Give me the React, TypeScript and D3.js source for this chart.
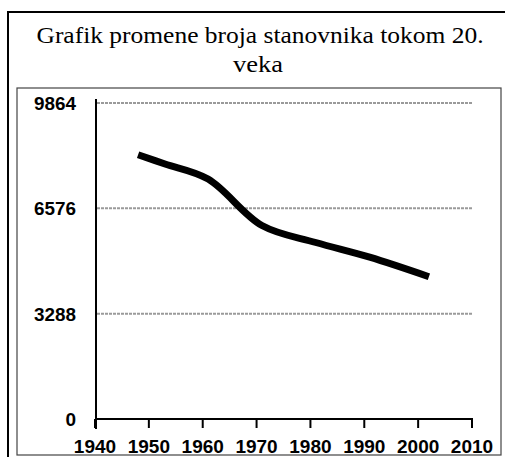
import React from "react";
import * as d3 from "d3";

const years = [1948, 1953, 1961, 1971, 1981, 1991, 2002];
const population = [8250, 7960, 7490, 6040, 5510, 5050, 4440];
const yTicks = [0, 3288, 6576, 9864];
const xTicks = [1940, 1950, 1960, 1970, 1980, 1990, 2000, 2010];
const titleLines = ["Grafik promene broja stanovnika tokom 20.", "veka"];

export default function App() {
  const W = 505, H = 457;
  const x = d3.scaleLinear().domain([1940, 2010]).range([95, 472]);
  const y = d3.scaleLinear().domain([0, 9864]).range([419, 103]);
  const data = years.map((yr, i) => ({ yr, v: population[i] }));
  const line = d3
    .line<{ yr: number; v: number }>()
    .x((d) => x(d.yr))
    .y((d) => y(d.v))
    .curve(d3.curveCatmullRom.alpha(0.5));
  const labelStyle = { fontFamily: '"Liberation Sans", Arial, sans-serif', fontSize: "19px", fontWeight: 700 as const };
  const titleStyle = { fontFamily: '"Liberation Serif", "DejaVu Serif", serif', fontSize: "24px" };
  return (
    <svg
      width={W}
      height={H}
      style={{ position: "absolute", left: 0, top: 0, background: "#fff" }}
    >
      <rect x={8} y={12} width={510} height={460} fill="none" stroke="#000" strokeWidth={2} />
      <rect x={17} y={88} width={484} height={367} fill="none" stroke="#444" strokeWidth={1.2} />
      <text x={260} y={43} textAnchor="middle" style={titleStyle} fill="#000" textLength={447} lengthAdjust="spacingAndGlyphs">
        {titleLines[0]}
      </text>
      <text x={258} y={72} textAnchor="middle" style={titleStyle} fill="#000" textLength={50} lengthAdjust="spacingAndGlyphs">
        {titleLines[1]}
      </text>
      {yTicks.filter((t) => t > 0).map((t) => (
        <line
          key={t}
          x1={97}
          x2={472}
          y1={y(t)}
          y2={y(t)}
          stroke="#9a9a9a"
          strokeWidth={2}
          strokeDasharray="3 1"
        />
      ))}
      <line x1={96} x2={96} y1={99} y2={429} stroke="#000" strokeWidth={2} />
      <line x1={96} x2={473} y1={419} y2={419} stroke="#000" strokeWidth={2} />
      {xTicks.map((t) => (
        <line key={t} x1={x(t)} x2={x(t)} y1={419} y2={428} stroke="#000" strokeWidth={2} />
      ))}
      {yTicks.map((t) => (
        <text
          key={t}
          x={76}
          y={y(t) + 7}
          textAnchor="end"
          style={labelStyle}
          textLength={t === 0 ? undefined : 42}
          lengthAdjust="spacingAndGlyphs"
          fill="#000"
        >
          {t}
        </text>
      ))}
      {xTicks.map((t) => (
        <text
          key={t}
          x={x(t)}
          y={453}
          textAnchor="middle"
          style={labelStyle}
          fill="#000"
        >
          {t}
        </text>
      ))}
      <path d={line(data) || ""} fill="none" stroke="#000" strokeWidth={7} strokeLinecap="butt" />
    </svg>
  );
}
